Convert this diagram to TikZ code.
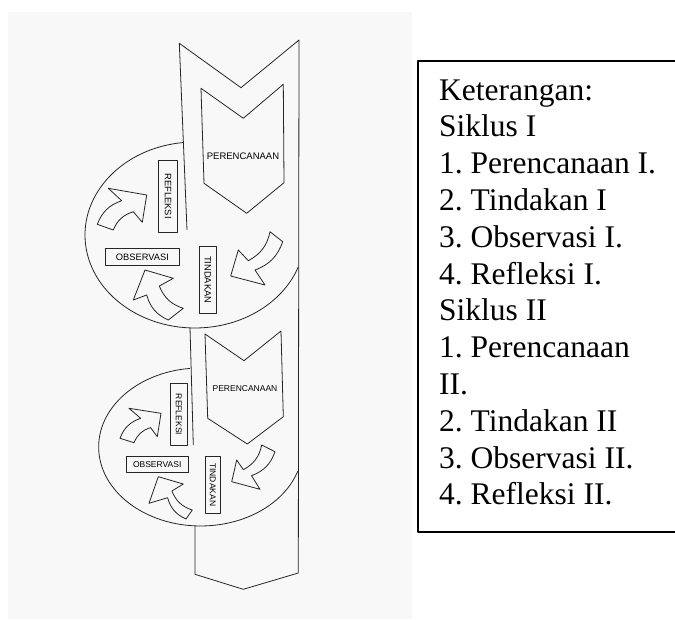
\documentclass[tikz,border=0pt]{standalone}
\usepackage{fontspec}
\setmainfont{Liberation Serif}
\setsansfont{Liberation Sans}
\usepackage{tikz}
\definecolor{bgcol}{HTML}{F8F8F8}
\frenchspacing

\begin{document}
\begin{tikzpicture}[x=1pt, y=-1pt, line join=round,
    shp/.style={draw=black!85, line width=0.8pt},
    arr/.style={shp, fill=bgcol},
    tag/.style={shp, fill=bgcol, inner sep=0pt, font=\sffamily\fontsize{9.3}{10}\selectfont},
    tagsm/.style={tag, font=\sffamily\fontsize{8.5}{9}\selectfont},
    legtext/.style={anchor=base west, inner sep=0pt, font=\fontsize{31.5}{36.8}\selectfont}]
	\useasboundingbox (0,0) rectangle (675,619);
	% picture background
	\fill[bgcol] (8,12) rectangle (412,619);
	% cycle ovals
	\draw[shp] (183.5,142.5) arc[start angle=264, end angle=20, x radius=110, y radius=93];
	\draw[shp] (190,368.4) arc[start angle=264, end angle=18, x radius=102, y radius=79];
	% long band
	\draw[shp] (187,230) -- (179.3,43.3) -- (241,87.7) -- (299,40) -- (298.3,573)
		-- (243.3,589.3) -- (195,574.3) -- (195,525.5);
	\draw[shp] (190,327.5) -- (193.3,445);
	% planning chevrons
	\draw[shp] (201,88.3) -- (243.3,118.3) -- (283.3,84.3) -- (284,182.7) -- (246.7,213.3) -- (204,183.3) -- cycle;
	\draw[shp] (205,334) -- (244,360.7) -- (281,331) -- (283.3,416.7) -- (247.3,444) -- (207.7,418.3) -- cycle;
	% arrows, cycle I
	\draw[arr] (97.3,224.3) to[bend left=25] (121.7,200.7) -- (108.3,188.3) -- (146.7,195) -- (142.3,222.3) -- (133.3,211.7) to[bend right=25] (113.3,230) -- cycle;
	\draw[arr] (168.3,320) to[bend left=25] (146.7,295) -- (133.3,300) -- (145,270) -- (173.3,278.3) -- (159.3,286) to[bend right=25] (183.3,308.3) -- cycle;
	\draw[arr] (270,231.7) to[bend left=25] (248.3,260.7) -- (238.3,250) -- (230.7,276) -- (265,285) -- (255,270) to[bend right=25] (282.7,241.7) -- cycle;
	% arrows, cycle II
	\draw[arr] (120,438.3) to[bend left=25] (140.7,418.3) -- (129,408.3) -- (161,413.3) -- (157.3,436.7) -- (150.6,427.6) to[bend right=25] (134,442.7) -- cycle;
	\draw[arr] (186,519) to[bend left=25] (167.6,497.7) -- (149,503.3) -- (158.3,476.7) -- (183.3,484) -- (171.9,491) to[bend right=25] (192.3,510) -- cycle;
	\draw[arr] (261.7,445) to[bend left=25] (243.3,469.7) -- (236.7,460) -- (231.7,481.7) -- (260,489.3) -- (251.5,475.7) to[bend right=25] (275,451.7) -- cycle;
	% labels, cycle I
	\node[font=\sffamily\fontsize{9.5}{10}\selectfont] (per1) at (243,156) {PERENCANAAN};
	\node[tag, rotate=-90, minimum width=72.3, minimum height=19.4] (ref1) at (168,196.2) {REFLEKSI};
	\node[tag, minimum width=73.3, minimum height=17.4] (obs1) at (142.4,257) {OBSERVASI};
	\node[tag, rotate=-90, minimum width=67.3, minimum height=17.7] (tin1) at (207.9,279.7) {TINDAKAN};
	% labels, cycle II
	\node[font=\sffamily\fontsize{8.5}{9}\selectfont] (per2) at (245,388.3) {PERENCANAAN};
	\node[tagsm, rotate=-90, minimum width=62.4, minimum height=17.3] (ref2) at (178.7,414.5) {REFLEKSI};
	\node[tagsm, minimum width=62.3, minimum height=16] (obs2) at (157.2,464.7) {OBSERVASI};
	\node[tagsm, rotate=-90, minimum width=57.3, minimum height=15.7] (tin2) at (212.9,484.7) {TINDAKAN};
	% legend
	\draw[line width=1.3pt] (680,61) -- (418,61) -- (418,532) -- (680,532);
	\foreach \t [count=\i] in {Keterangan:, Siklus I, 1. Perencanaan I., 2. Tindakan I, 3. Observasi I., 4. Refleksi I.,
		Siklus II, 1. Perencanaan, II., 2. Tindakan II, 3. Observasi II., 4. Refleksi II.}
		\node[legtext] (leg\i) at (439,{100+36.8*(\i-1)}) {\t};
\end{tikzpicture}
\end{document}
